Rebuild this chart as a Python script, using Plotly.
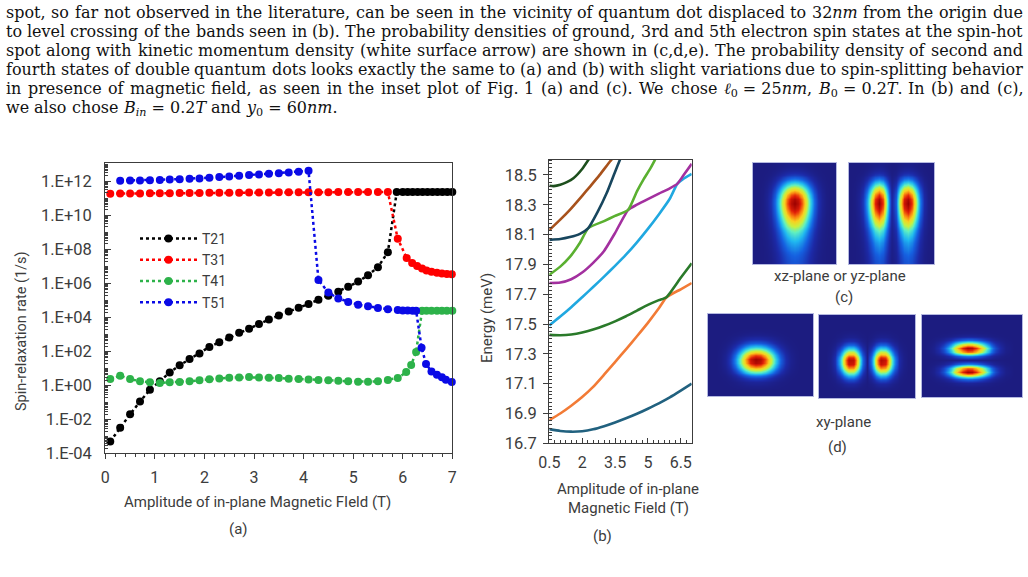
import re
import plotly.graph_objects as go

W, H = 1028, 577

# ---------------- Panel (a): spin-relaxation rates (1/s) ----------------
t21_x = [0.1, 0.3, 0.5, 0.7, 0.9, 1.1, 1.3, 1.5, 1.7, 1.9, 2.1, 2.3, 2.5, 2.7, 2.9, 3.1, 3.3, 3.5, 3.7, 3.9,
         4.1, 4.3, 4.5, 4.7, 4.9, 5.1, 5.3, 5.5, 5.7, 5.88, 6.0, 6.1, 6.2, 6.3, 6.4, 6.5, 6.6, 6.7, 6.8, 6.9, 7.0]
t21_y = [5.0e-4, 3.2e-3, 1.95e-2, 0.11, 0.54, 1.7, 5.6, 14.8, 34.7, 74, 178, 331, 631, 1200, 2090, 3980, 7240,
         1.26e4, 2.14e4, 3.63e4, 5.89e4, 1.05e5, 1.82e5, 3.09e5, 6.03e5, 1.23e6, 2.88e6, 8.71e6, 6.6e7, 2.29e11,
         2.29e11, 2.28e11, 2.28e11, 2.27e11, 2.27e11, 2.26e11, 2.26e11, 2.25e11, 2.25e11, 2.24e11, 2.24e11]

t31_x = [0.1, 0.3, 0.5, 0.7, 0.9, 1.1, 1.3, 1.5, 1.7, 1.9, 2.1, 2.3, 2.5, 2.7, 2.9, 3.1, 3.3, 3.5, 3.7, 3.9,
         4.1, 4.3, 4.5, 4.7, 4.9, 5.1, 5.3, 5.5, 5.7, 5.9, 6.08, 6.19, 6.29, 6.39, 6.48, 6.58, 6.69, 6.79, 6.89, 6.99]
t31_y = [1.82e11, 1.84e11, 1.86e11, 1.88e11, 1.9e11, 1.92e11, 1.94e11, 1.96e11, 1.98e11, 2.0e11, 2.02e11,
         2.04e11, 2.06e11, 2.08e11, 2.1e11, 2.12e11, 2.14e11, 2.16e11, 2.18e11, 2.2e11, 2.21e11, 2.22e11,
         2.23e11, 2.24e11, 2.25e11, 2.26e11, 2.27e11, 2.28e11, 2.29e11, 4.0e8, 3.0e7, 1.55e7, 1.0e7, 7.2e6,
         5.6e6, 4.7e6, 4.1e6, 3.7e6, 3.5e6, 3.3e6]

t41_x = [0.1, 0.3, 0.5, 0.7, 0.9, 1.1, 1.3, 1.5, 1.7, 1.9, 2.1, 2.3, 2.5, 2.7, 2.9, 3.1, 3.3, 3.5, 3.7, 3.9,
         4.1, 4.3, 4.5, 4.7, 4.9, 5.1, 5.3, 5.5, 5.7, 5.9, 6.07, 6.17, 6.27, 6.39, 6.48, 6.58, 6.69, 6.79, 6.89, 7.0]
t41_y = [2.34, 3.63, 2.34, 1.70, 1.48, 1.35, 1.48, 1.55, 1.70, 1.95, 2.24, 2.51, 2.75, 2.88, 3.02, 2.88, 2.75,
         2.63, 2.40, 2.34, 2.14, 2.04, 1.95, 1.86, 1.70, 1.62, 1.62, 1.70, 2.04, 2.63, 5.9, 15.5, 91, 2.4e4,
         2.4e4, 2.4e4, 2.4e4, 2.4e4, 2.4e4, 2.4e4]

t51_x = [0.3, 0.5, 0.7, 0.9, 1.1, 1.3, 1.5, 1.7, 1.9, 2.1, 2.3, 2.5, 2.7, 2.9, 3.1, 3.3, 3.5, 3.7, 3.9, 4.1,
         4.3, 4.5, 4.7, 4.9, 5.1, 5.3, 5.5, 5.7, 5.9, 6.0, 6.1, 6.2, 6.27, 6.38, 6.47, 6.58, 6.69, 6.79, 6.87, 6.99]
t51_y = [1.05e12, 1.07e12, 1.07e12, 1.12e12, 1.17e12, 1.23e12, 1.29e12, 1.35e12, 1.41e12, 1.55e12, 1.70e12,
         1.86e12, 2.04e12, 2.24e12, 2.45e12, 2.69e12, 2.88e12, 3.16e12, 3.47e12, 3.98e12, 1.55e6, 2.8e5,
         1.26e5, 7.9e4, 5.4e4, 4.4e4, 3.5e4, 2.9e4, 2.6e4, 2.5e4, 2.45e4, 2.4e4, 2.4e4, 162, 17.8, 6.5, 4.2,
         2.9, 2.1, 1.55]

rate_series = [("T21", t21_x, t21_y, "#000000"),
               ("T31", t31_x, t31_y, "#ff0000"),
               ("T41", t41_x, t41_y, "#2db24a"),
               ("T51", t51_x, t51_y, "#0a0ae6")]
a_xticks = [0, 1, 2, 3, 4, 5, 6, 7]
a_ytick_exp = [-4, -2, 0, 2, 4, 6, 8, 10, 12]
a_ytick_text = ["1.E-04", "1.E-02", "1.E+00", "1.E+02", "1.E+04", "1.E+06", "1.E+08", "1.E+10", "1.E+12"]

# ---------------- Panel (b): energy levels (meV) ----------------
b_bands = [
    ("#21617f", [0.5, 1.0, 1.5, 2.0, 2.5, 3.0, 3.5, 4.0, 4.5, 5.0, 5.5, 6.0, 6.5, 7.0],
     [16.795, 16.783, 16.778, 16.781, 16.794, 16.815, 16.84, 16.868, 16.898, 16.932, 16.968, 17.008, 17.053, 17.10]),
    ("#f27b36", [0.5, 1.0, 1.5, 2.0, 2.5, 3.0, 3.5, 4.0, 4.5, 5.0, 5.5, 5.85, 6.5, 7.0],
     [16.856, 16.90, 16.952, 17.01, 17.078, 17.16, 17.245, 17.33, 17.418, 17.508, 17.605, 17.68, 17.733, 17.775]),
    ("#2a7a2a", [0.5, 1.0, 1.5, 2.0, 2.5, 3.0, 3.5, 4.0, 4.5, 5.0, 5.5, 5.85, 6.5, 7.0],
     [17.427, 17.425, 17.43, 17.443, 17.463, 17.488, 17.518, 17.552, 17.59, 17.628, 17.66, 17.68, 17.81, 17.908]),
    ("#20a8e0", [0.5, 1.0, 1.5, 2.0, 2.5, 3.0, 3.5, 4.0, 4.5, 5.0, 5.5, 6.0, 6.34, 6.6, 7.0],
     [17.49, 17.55, 17.613, 17.68, 17.748, 17.818, 17.89, 17.965, 18.048, 18.138, 18.235, 18.34, 18.44, 18.472, 18.507]),
    ("#a3309f", [0.5, 1.0, 1.5, 2.0, 2.5, 3.0, 3.5, 4.1, 4.5, 5.0, 5.5, 6.0, 6.34, 6.6, 7.0],
     [17.775, 17.778, 17.80, 17.845, 17.91, 17.99, 18.11, 18.266, 18.30, 18.338, 18.375, 18.41, 18.44, 18.492, 18.574]),
    ("#5ab030", [0.5, 1.0, 1.44, 1.9, 2.28, 3.0, 3.5, 4.1, 4.5, 4.79, 5.1, 5.32, 5.5],
     [17.83, 17.885, 17.95, 18.045, 18.143, 18.19, 18.225, 18.266, 18.39, 18.467, 18.54, 18.6, 18.65]),
    ("#18465e", [0.5, 1.0, 1.44, 1.9, 2.28, 2.7, 3.12, 3.5, 3.72, 3.9],
     [18.064, 18.07, 18.083, 18.105, 18.143, 18.25, 18.378, 18.52, 18.6, 18.67]),
    ("#a8521c", [0.5, 1.0, 1.44, 2.0, 2.36, 2.8, 3.27, 3.5],
     [18.13, 18.2, 18.266, 18.36, 18.422, 18.5, 18.59, 18.63]),
    ("#1d4f1d", [0.5, 0.7, 1.0, 1.3, 1.6, 2.0, 2.28, 2.5],
     [18.427, 18.425, 18.434, 18.452, 18.478, 18.54, 18.6, 18.65]),
]
b_xticks = [0.5, 2, 3.5, 5, 6.5]

# ---------------- Panels (c), (d): probability densities (profiles) ----------------
c1_v = [0.02, 0.05, 0.12, 0.25, 0.45, 0.67, 0.86, 0.97, 1.00, 0.95, 0.86, 0.75, 0.64, 0.54, 0.45, 0.38, 0.32, 0.27, 0.23, 0.20, 0.18]
c1_h = [0.00, 0.00, 0.01, 0.04, 0.10, 0.22, 0.40, 0.62, 0.82, 0.95, 1.00, 0.95, 0.82, 0.62, 0.40, 0.22, 0.10, 0.04, 0.01, 0.00, 0.00]
c2_v = [0.02, 0.05, 0.12, 0.26, 0.46, 0.68, 0.86, 0.97, 1.00, 0.95, 0.86, 0.75, 0.63, 0.52, 0.43, 0.36, 0.30, 0.26, 0.23, 0.20, 0.18]
c2_h = [0.00, 0.01, 0.04, 0.12, 0.30, 0.58, 0.88, 1.00, 0.85, 0.45, 0.06, 0.20, 0.62, 0.92, 1.00, 0.85, 0.55, 0.25, 0.08, 0.02, 0.00]
d1_v = [0.00, 0.00, 0.00, 0.00, 0.01, 0.03, 0.08, 0.19, 0.37, 0.60, 0.84, 0.99, 0.96, 0.78, 0.53, 0.30, 0.14, 0.05, 0.02, 0.00, 0.00]
d1_h = [0.00, 0.00, 0.01, 0.04, 0.12, 0.27, 0.49, 0.74, 0.93, 1.00, 0.97, 0.83, 0.61, 0.38, 0.20, 0.09, 0.03, 0.01, 0.00, 0.00, 0.00]
d2_v = [0.00, 0.00, 0.00, 0.00, 0.01, 0.03, 0.09, 0.22, 0.42, 0.66, 0.87, 0.99, 0.96, 0.80, 0.56, 0.33, 0.16, 0.06, 0.02, 0.00, 0.00]
d2_h = [0.00, 0.00, 0.02, 0.10, 0.32, 0.68, 0.96, 0.95, 0.62, 0.22, 0.02, 0.25, 0.68, 0.97, 0.93, 0.60, 0.27, 0.08, 0.02, 0.00, 0.00]
d3_v = [0.00, 0.00, 0.00, 0.00, 0.01, 0.05, 0.22, 0.62, 0.98, 0.80, 0.25, 0.02, 0.25, 0.80, 0.98, 0.62, 0.22, 0.05, 0.01, 0.00, 0.00]
d3_h = [0.00, 0.01, 0.03, 0.08, 0.17, 0.32, 0.52, 0.73, 0.90, 1.00, 0.98, 0.87, 0.69, 0.48, 0.29, 0.15, 0.07, 0.02, 0.01, 0.00, 0.00]

# ---------------- Paragraph text ----------------
para_lines = [
    "spot, so far not observed in the literature, can be seen in the vicinity of quantum dot displaced to 32<i>nm</i> from the origin due",
    "to level crossing of the bands seen in (b). The probability densities of ground, 3rd and 5th electron spin states at the spin-hot",
    "spot along with kinetic momentum density (white surface arrow) are shown in (c,d,e). The probability density of second and",
    "fourth states of double quantum dots looks exactly the same to (a) and (b) with slight variations due to spin-splitting behavior",
    "in presence of magnetic field, as seen in the inset plot of Fig. 1 (a) and (c). We chose <i>ℓ</i><sub>0</sub>~=~25<i>nm</i>, <i>B</i><sub>0</sub>~=~0.2<i>T</i>. In (b) and (c),",
    "we also chose <i>B<sub>in</sub></i>~=~0.2<i>T</i> and <i>y</i><sub>0</sub>~=~60<i>nm</i>.",
]

# approximate DejaVu Serif advance widths (per 1000 em)
DV = {' ': 318, '(': 390, ')': 390, ',': 318, '-': 338, '.': 318, '=': 838, ':': 337, ';': 337,
      '0': 636, '1': 636, '2': 636, '3': 636, '4': 636, '5': 636, '6': 636, '7': 636, '8': 636, '9': 636,
      'B': 734, 'F': 683, 'I': 365, 'T': 675, 'W': 1028,
      'a': 596, 'b': 640, 'c': 560, 'd': 640, 'e': 592, 'f': 370, 'g': 640, 'h': 644, 'i': 320, 'j': 310,
      'k': 610, 'l': 320, 'm': 948, 'n': 644, 'o': 602, 'p': 640, 'q': 640, 'r': 478, 's': 513, 't': 402,
      'u': 644, 'v': 565, 'w': 856, 'x': 564, 'y': 565, 'z': 523, 'ℓ': 420}


def tw(tok, size):
    w, sub = 0.0, False
    for p in re.split(r'(<[^>]+>)', tok):
        if p.startswith('<'):
            if p.strip('</>').lower() == 'sub':
                sub = not p.startswith('</')
            continue
        for ch in p:
            w += DV.get(ch, 620) / 1000.0 * size * (0.7 if sub else 1.0)
    return w


TXT_L, TXT_R = 5.0, 1022.0
nat = [sum(tw(t.replace('~', ' '), 1.0) for t in ln.split(' ')) + 0.318 * (len(ln.split(' ')) - 1)
       for ln in para_lines[:-1]]
FS = min(16.0, sorted([(TXT_R - TXT_L) / n for n in nat])[len(nat) // 2] * 0.99)
BASE0, LSTEP, ASC = 17.3, 18.9, 0.928

annotations = []
for k, ln in enumerate(para_lines):
    toks = [t.replace('~', ' ') for t in ln.split(' ')]
    widths = [tw(t, FS) for t in toks]
    if k < len(para_lines) - 1:
        gap = (TXT_R - TXT_L - sum(widths)) / (len(toks) - 1)
    else:
        gap = 0.318 * FS
    xpos = TXT_L
    ytop = BASE0 + LSTEP * k - ASC * FS
    for t, wd in zip(toks, widths):
        annotations.append(dict(text=t, x=xpos / W, y=1 - ytop / H, xref="paper", yref="paper",
                                xanchor="left", yanchor="top", showarrow=False, borderpad=0,
                                font=dict(family="DejaVu Serif", size=FS, color="#111")))
        xpos += wd + gap

# ---------------- Figure ----------------
fig = go.Figure()
SANS = "Roboto"
AXC = "#3c3c3c"

for name, xs, ys, col in rate_series:
    fig.add_trace(go.Scatter(x=xs, y=ys, name=name, mode="lines+markers", xaxis="x", yaxis="y",
                             line=dict(color=col, width=2.5, dash="dot"),
                             marker=dict(color=col, size=8), cliponaxis=False))

for col, xs, ys in b_bands:
    fig.add_trace(go.Scatter(x=xs, y=ys, mode="lines", xaxis="x2", yaxis="y2", showlegend=False,
                             line=dict(color=col, width=2.6, shape="spline", smoothing=0.5)))

JET = [[0.0, '#1c1c80'], [0.08, '#1c2aa8'], [0.2, '#1560e0'], [0.33, '#20b8f0'], [0.45, '#60f0c0'],
       [0.57, '#c8f040'], [0.68, '#f8d020'], [0.78, '#f88010'], [0.88, '#e02008'], [1.0, '#9a0000']]
maps = [(c1_v, c1_h, (753, 836, 163, 264)),
        (c2_v, c2_h, (849, 934, 163, 264)),
        (d1_v, d1_h, (708, 813, 314, 396)),
        (d2_v, d2_h, (819, 915, 315, 398)),
        (d3_v, d3_h, (922, 1022, 315, 397))]

layout_axes = {}
for i, (vv, hh, box) in enumerate(maps):
    n = i + 3
    z = [[a * b for b in hh] for a in vv]
    fig.add_trace(go.Heatmap(z=z, xaxis=f"x{n}", yaxis=f"y{n}", colorscale=JET, zmin=0, zmax=1,
                             zsmooth="best", showscale=False, hoverinfo="skip"))
    x0, x1, y0, y1 = box
    common = dict(showgrid=False, zeroline=False, showticklabels=False, ticks="", showline=True,
                  mirror=True, linecolor="#b4b8e0", linewidth=1)
    layout_axes[f"xaxis{n}"] = dict(domain=[x0 / W, x1 / W], anchor=f"y{n}", **common)
    layout_axes[f"yaxis{n}"] = dict(domain=[1 - y1 / H, 1 - y0 / H], anchor=f"x{n}", autorange="reversed", **common)

minor_a = []
for d in range(-4, 13):
    if d % 2:
        minor_a.append(10.0 ** d)
    for m in range(2, 10):
        minor_a.append(m * 10.0 ** d)

fig.update_layout(
    width=W, height=H, margin=dict(l=0, r=0, t=0, b=0, pad=0, autoexpand=False),
    paper_bgcolor="white", plot_bgcolor="white",
    font=dict(family=SANS, color=AXC),
    showlegend=True,
    legend=dict(x=135 / W, y=1 - 223 / H, xanchor="left", yanchor="top", bgcolor="rgba(0,0,0,0)",
                font=dict(family=SANS, size=14, color=AXC), itemwidth=57, tracegroupgap=0),
    xaxis=dict(domain=[105.3 / W, 452.3 / W], anchor="y", range=[0, 7], tickvals=a_xticks,
               ticks="outside", ticklen=5, tickcolor=AXC, showline=True, linecolor=AXC, linewidth=1.3,
               mirror=True, showgrid=False, zeroline=False, tickfont=dict(size=16, color=AXC),
               ticklabelstandoff=4,
               minor=dict(dtick=0.2, ticks="outside", ticklen=3, tickcolor=AXC, showgrid=False)),
    yaxis=dict(domain=[1 - 453.3 / H, 1 - 163 / H], anchor="x", type="log", range=[-4, 13.06],
               tickvals=[10.0 ** e for e in a_ytick_exp], ticktext=a_ytick_text,
               ticks="inside", ticklen=6, tickcolor=AXC, showline=True, linecolor=AXC, linewidth=1.3,
               mirror=True, showgrid=False, zeroline=False, tickfont=dict(size=16.5, color=AXC),
               ticklabelstandoff=9,
               minor=dict(tickvals=minor_a, ticks="inside", ticklen=3, tickcolor=AXC, showgrid=False)),
    xaxis2=dict(domain=[549.3 / W, 691.7 / W], anchor="y2", range=[0.5, 7.0], tickvals=b_xticks,
                ticks="inside", ticklen=5, tickcolor=AXC, showline=True, linecolor=AXC, linewidth=1.3,
                mirror=True, showgrid=False, zeroline=False, tickfont=dict(size=16, color=AXC),
                ticklabelstandoff=4,
                minor=dict(dtick=0.25, tick0=0.5, ticks="inside", ticklen=3, tickcolor=AXC, showgrid=False)),
    yaxis2=dict(domain=[1 - 443.3 / H, 1 - 160 / H], anchor="x2", range=[16.7, 18.6], tick0=16.7, dtick=0.2,
                tickformat=".1f", ticks="outside", ticklen=5, tickcolor=AXC, showline=True, linecolor=AXC,
                linewidth=1.3, mirror=True, showgrid=False, zeroline=False, tickfont=dict(size=16.5, color=AXC),
                ticklabelstandoff=3,
                minor=dict(dtick=0.025, ticks="inside", ticklen=3, tickcolor=AXC, showgrid=False)),
    **layout_axes,
)


def lab(text, px, py, size=15, angle=0):
    annotations.append(dict(text=text, x=px / W, y=1 - py / H, xref="paper", yref="paper",
                            xanchor="center", yanchor="middle", showarrow=False, textangle=angle,
                            font=dict(family=SANS, size=size, color=AXC)))


lab("Spin-relaxation rate (1/s)", 21, 331, size=14.5, angle=-90)
lab("Amplitude of in-plane Magnetic FIeld (T)", 257, 502, size=15)
lab("(a)", 238, 529)
lab("Energy (meV)", 487, 318, angle=-90)
lab("Amplitude of in-plane", 628, 489)
lab("Magnetic Field (T)", 628, 508)
lab("(b)", 602, 536)
lab("xz-plane or yz-plane", 840, 276)
lab("(c)", 844, 297)
lab("xy-plane", 843, 422)
lab("(d)", 837, 447)

fig.update_layout(annotations=annotations)
fig.write_html("out.html")
